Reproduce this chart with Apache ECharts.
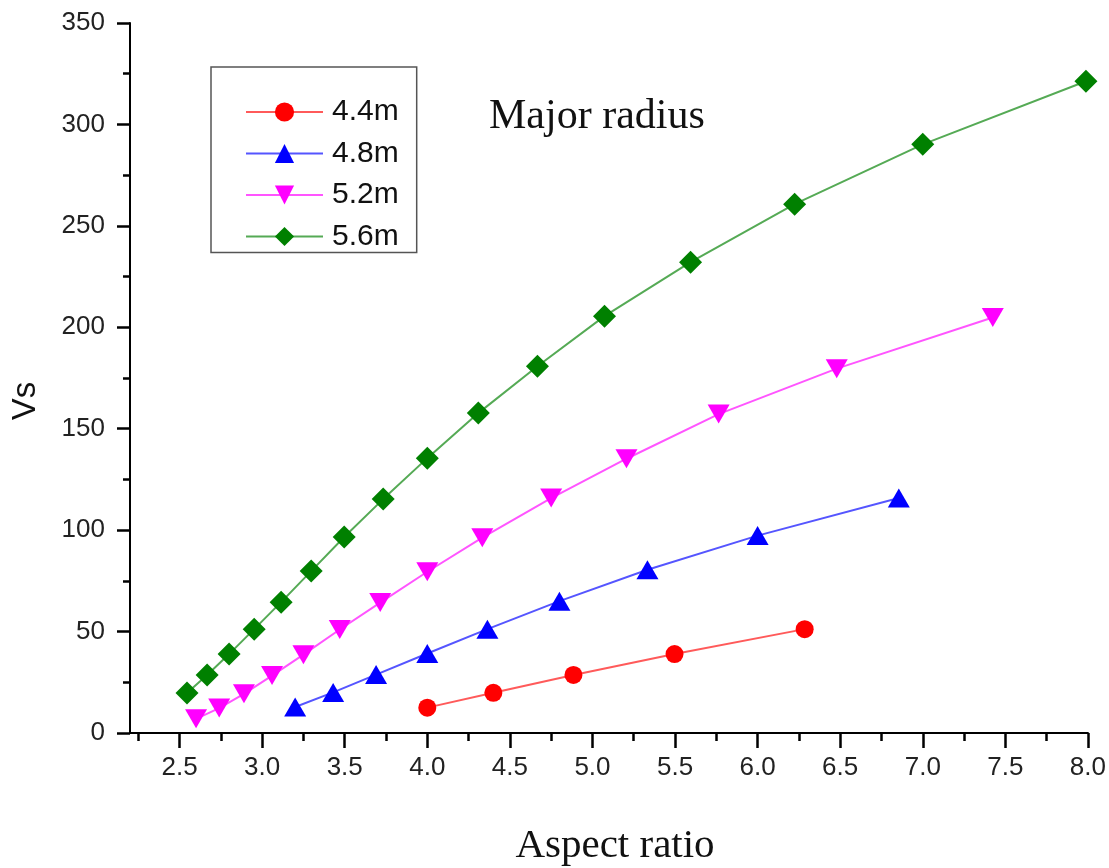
<!DOCTYPE html>
<html>
<head>
<meta charset="utf-8">
<script src="https://cdn.jsdelivr.net/npm/echarts@6/dist/echarts.min.js"></script>
<style>html,body{margin:0;padding:0;background:#fff}#c{width:1109px;height:868px}</style>
</head>
<body>
<div id="c"></div>
<script>
const seriesNames = ['4.4m', '4.8m', '5.2m', '5.6m'];
const xMajorTicks = [2.5, 3.0, 3.5, 4.0, 4.5, 5.0, 5.5, 6.0, 6.5, 7.0, 7.5, 8.0];
const xMinorTicks = [2.25, 2.75, 3.25, 3.75, 4.25, 4.75, 5.25, 5.75, 6.25, 6.75, 7.25, 7.75];

const x44 = [4.0, 4.4, 4.885, 5.497, 6.285];
const y44 = [12.5, 19.8, 28.6, 38.9, 51.2];

const x48 = [3.2, 3.43, 3.69, 4.0, 4.364, 4.8, 5.333, 6.0, 6.855];
const y48 = [12.8, 20.0, 28.8, 39.2, 51.2, 65.0, 80.5, 97.3, 115.8];

const x52 = [2.6, 2.74, 2.89, 3.06, 3.25, 3.47, 3.715, 4.0, 4.333, 4.75, 5.206, 5.764, 6.479, 7.424];
const y52 = [7.0, 12.3, 19.3, 28.3, 38.6, 51.0, 64.3, 79.5, 96.3, 115.8, 135.2, 157.2, 179.6, 204.8];

const x56 = [2.545, 2.667, 2.8, 2.952, 3.115, 3.297, 3.497, 3.733, 4.0, 4.309, 4.667, 5.073, 5.594, 6.224, 7.0, 7.988];
const y56 = [19.7, 28.6, 38.9, 51.2, 64.5, 79.8, 96.6, 115.3, 135.5, 157.7, 180.8, 205.5, 232.1, 260.7, 290.2, 321.3];

function pairs(xs, ys) { return xs.map((x, i) => [x, ys[i]]); }

const chart = echarts.init(document.getElementById('c'), null, {renderer: 'canvas'});
const labelFont = {fontFamily: 'Liberation Sans, Arial, sans-serif', fontSize: 26, color: '#222'};

chart.setOption({
  animation: false,
  backgroundColor: '#fff',
  grid: {left: 130, right: 21, top: 23, bottom: 135, containLabel: false},
  xAxis: [{
    type: 'value', min: 2.2, max: 8.0, position: 'bottom',
    axisLine: {show: true, lineStyle: {color: '#000', width: 2}},
    axisTick: {show: true, inside: false, length: 15, customValues: xMajorTicks, lineStyle: {color: '#000', width: 2.5}},
    axisLabel: Object.assign({show: true, margin: 22, customValues: xMajorTicks, formatter: v => v.toFixed(1)}, labelFont),
    splitLine: {show: false}
  }, {
    type: 'value', min: 2.2, max: 8.0, position: 'bottom',
    axisLine: {show: false},
    axisTick: {show: true, inside: false, length: 8, customValues: xMinorTicks, lineStyle: {color: '#000', width: 2.5}},
    axisLabel: {show: false},
    splitLine: {show: false}
  }],
  yAxis: {
    type: 'value', min: 0, max: 350, interval: 50,
    axisLine: {show: true, lineStyle: {color: '#000', width: 2}},
    axisTick: {show: true, inside: false, length: 13, lineStyle: {color: '#000', width: 2.5}},
    minorTick: {show: true, splitNumber: 2, length: 7, lineStyle: {color: '#000', width: 2.5}},
    axisLabel: Object.assign({margin: 25}, labelFont),
    splitLine: {show: false}
  },
  legend: {
    orient: 'vertical', left: 211, top: 67,
    borderColor: '#555', borderWidth: 1.5, borderRadius: 0,
    padding: [30, 18, 1, 34],
    itemWidth: 77, itemHeight: 24, itemGap: 11.5,
    textStyle: {fontFamily: 'Liberation Sans, Arial, sans-serif', fontSize: 30, color: '#111', padding: [0, 0, 0, 4]},
    data: seriesNames
  },
  graphic: [
    {type: 'text', left: 489, top: 96, style: {text: 'Major radius', font: '42px "Liberation Serif", "Times New Roman", serif', fill: '#111'}},
    {type: 'text', x: 615, y: 846, style: {text: 'Aspect ratio', font: '41px "Liberation Serif", "Times New Roman", serif', fill: '#111', textAlign: 'center', textVerticalAlign: 'middle'}},
    {type: 'text', x: 26, y: 401, rotation: Math.PI / 2, style: {text: 'Vs', font: '33px "Liberation Sans", Arial, sans-serif', fill: '#111', textAlign: 'center', textVerticalAlign: 'middle'}}
  ],
  series: [
    {name: seriesNames[0], type: 'line', data: pairs(x44, y44), symbol: 'circle', symbolSize: 18,
     itemStyle: {color: '#ff0000'}, lineStyle: {color: '#ff5a5a', width: 2}},
    {name: seriesNames[1], type: 'line', data: pairs(x48, y48), symbol: 'triangle', symbolSize: [22, 19],
     itemStyle: {color: '#0000ff'}, lineStyle: {color: '#5555ff', width: 2}},
    {name: seriesNames[2], type: 'line', data: pairs(x52, y52), symbol: 'triangle', symbolSize: [22, 19], symbolRotate: 180,
     itemStyle: {color: '#ff00ff'}, lineStyle: {color: '#ff55ff', width: 2}},
    {name: seriesNames[3], type: 'line', data: pairs(x56, y56), symbol: 'diamond', symbolSize: 23,
     itemStyle: {color: '#008000'}, lineStyle: {color: '#55aa55', width: 2}}
  ]
});
</script>
</body>
</html>
